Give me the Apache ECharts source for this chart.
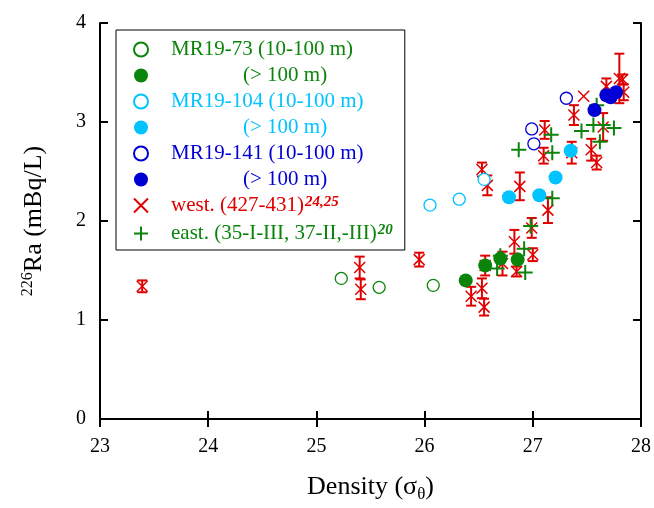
<!DOCTYPE html>
<html>
<head>
<meta charset="utf-8">
<script src="https://cdn.jsdelivr.net/npm/echarts@6/dist/echarts.min.js"></script>
<style>
  html, body { margin: 0; padding: 0; background: #fff; }
  #chart { width: 654px; height: 508px; }
</style>
</head>
<body>
<div id="chart"></div>
<script>
// Axis ticks
const xTicks = [23, 24, 25, 26, 27, 28];
const yTicks = [0, 1, 2, 3, 4];

// MR19-73 samples [density, Ra-226]
const mr73Shallow = [[25.23, 1.42], [25.58, 1.33], [26.08, 1.35]];
const mr73Deep = [[26.38, 1.40], [26.56, 1.55], [26.70, 1.62], [26.86, 1.61]];

// MR19-104 samples
const mr104Shallow = [[26.05, 2.16], [26.32, 2.22], [26.55, 2.42]];
const mr104Deep = [[26.78, 2.24], [27.06, 2.26], [27.21, 2.44], [27.35, 2.71]];

// MR19-141 samples
const mr141Shallow = [[26.99, 2.93], [27.01, 2.78], [27.31, 3.24]];
const mr141Deep = [[27.57, 3.12], [27.68, 3.27], [27.72, 3.25], [27.77, 3.30]];

// Western stations: [density, Ra-226, 1-sigma error]
const westData = [
  [23.39, 1.34, 0.06], [25.40, 1.53, 0.11], [25.41, 1.31, 0.10],
  [25.95, 1.61, 0.07], [26.43, 1.24, 0.095], [26.53, 1.32, 0.10],
  [26.55, 1.13, 0.085], [26.53, 2.52, 0.07], [26.58, 2.36, 0.10],
  [26.56, 1.55, 0.10], [26.72, 1.57, 0.12], [26.83, 1.79, 0.12],
  [26.85, 1.49, 0.05], [26.88, 2.35, 0.14], [26.99, 1.93, 0.10],
  [27.00, 1.66, 0.065], [27.10, 2.66, 0.08], [27.11, 2.92, 0.09],
  [27.14, 2.11, 0.13], [27.36, 2.69, 0.11], [27.38, 3.07, 0.10],
  [27.47, 3.26, 0.0], [27.54, 2.72, 0.11], [27.59, 2.59, 0.07],
  [27.65, 2.95, 0.14], [27.68, 3.36, 0.08], [27.80, 3.44, 0.25],
  [27.83, 3.43, 0.05], [27.84, 3.30, 0.08]
];

// Eastern stations
const eastData = [
  [26.67, 1.52], [26.70, 1.65], [26.87, 2.72], [26.92, 1.72], [26.93, 1.48],
  [26.98, 1.95], [27.17, 2.87], [27.18, 2.69], [27.18, 2.23], [27.45, 2.91],
  [27.56, 2.97], [27.59, 3.17], [27.62, 2.80], [27.65, 2.97], [27.75, 2.94]
];

const GREEN = '#0b840b';
const CYAN = '#00c3ff';
const BLUE = '#0000d4';
const RED = '#e00000';
const FONT = 'Liberation Serif';

const crossPath = 'path://M0,0L10,10M10,0L0,10';
const plusPath = 'path://M5,0L5,10M0,5L10,5';

// Display text for each legend row
const legendText = {
  'mr73s': '{g|MR19-73 (10-100 m)}',
  'mr73d': '{gi|(> 100 m)}',
  'mr104s': '{c|MR19-104 (10-100 m)}',
  'mr104d': '{ci|(> 100 m)}',
  'mr141s': '{b|MR19-141 (10-100 m)}',
  'mr141d': '{bi|(> 100 m)}',
  'west': '{r|west. (427-431)}{rs|24,25}',
  'east': '{g|east. (35-I-III, 37-II,-III)}{gs|20}'
};

const richBase = (color, indent) => ({
  color: color, fontFamily: FONT, fontSize: 21, padding: [0, 0, 0, indent]
});
// Superscript references, lifted toward the top of the row
const richSup = (color) => ({
  color: color, fontFamily: FONT, fontSize: 15, fontWeight: 'bold', fontStyle: 'italic',
  verticalAlign: 'top', lineHeight: 12, padding: [0, 0, 8, 1]
});

function circleSeries(name, data, color, filled) {
  return {
    name: name, type: 'scatter', data: data, z: 5,
    symbol: 'circle', symbolSize: filled ? 14 : 12,
    itemStyle: filled
      ? { color: color, opacity: 1 }
      : { color: '#ffffff', borderColor: color, borderWidth: 1.3, opacity: 1 }
  };
}

const chart = echarts.init(document.getElementById('chart'), null, { renderer: 'canvas' });

const axisCommon = {
  interval: 1,
  axisLine: { show: true, lineStyle: { color: '#000', width: 2 } },
  axisTick: { show: true, inside: true, length: 8, lineStyle: { color: '#000', width: 2 } },
  splitLine: { show: false }
};

chart.setOption({
  animation: false,
  backgroundColor: '#ffffff',
  grid: { left: 100, right: 11, top: 23, bottom: 82, containLabel: false },
  xAxis: [
    Object.assign({}, axisCommon, {
      type: 'value', min: xTicks[0], max: xTicks[xTicks.length - 1], position: 'bottom',
      axisLabel: { color: '#000', fontFamily: FONT, fontSize: 20, margin: 18 },
      name: '{n|Density (σ}{s|θ}{n|)}',
      nameLocation: 'middle', nameGap: 52,
      nameTextStyle: {
        rich: {
          n: { fontFamily: FONT, fontSize: 26, color: '#000' },
          s: { fontFamily: FONT, fontSize: 17, color: '#000', verticalAlign: 'bottom', padding: [15, 0, 0, 0] }
        }
      }
    }),
    Object.assign({}, axisCommon, {
      type: 'value', min: xTicks[0], max: xTicks[xTicks.length - 1], position: 'top',
      axisLabel: { show: false }
    })
  ],
  yAxis: [
    Object.assign({}, axisCommon, {
      type: 'value', min: yTicks[0], max: yTicks[yTicks.length - 1], position: 'left',
      axisLabel: { color: '#000', fontFamily: FONT, fontSize: 20, margin: 14 },
      name: '{s|226}{n|Ra (mBq/L)}',
      nameLocation: 'middle', nameGap: 52,
      nameTextStyle: {
        rich: {
          n: { fontFamily: FONT, fontSize: 26, color: '#000' },
          s: { fontFamily: FONT, fontSize: 16, color: '#000', verticalAlign: 'top', padding: [0, 0, 12, 0] }
        }
      }
    }),
    Object.assign({}, axisCommon, {
      type: 'value', min: yTicks[0], max: yTicks[yTicks.length - 1], position: 'right',
      axisLabel: { show: false }
    })
  ],
  legend: {
    orient: 'vertical',
    left: 116, top: 30,
    padding: [9, 12, 4, 17],
    backgroundColor: '#ffffff',
    borderColor: '#000', borderWidth: 1,
    itemWidth: 20, itemHeight: 14, itemGap: 5,
    data: ['mr73s', 'mr73d', 'mr104s', 'mr104d', 'mr141s', 'mr141d', 'west', 'east'],
    formatter: (name) => legendText[name],
    textStyle: {
      rich: {
        g: richBase(GREEN, 15), gi: richBase(GREEN, 87),
        c: richBase(CYAN, 15), ci: richBase(CYAN, 87),
        b: richBase(BLUE, 15), bi: richBase(BLUE, 87),
        r: richBase(RED, 15), rs: richSup(RED), gs: richSup(GREEN)
      }
    }
  },
  series: [
    {
      name: 'westErr', type: 'custom', z: 2,
      data: westData,
      renderItem: function (params, api) {
        const x = api.value(0), y = api.value(1), e = api.value(2);
        if (!e) return { type: 'group', children: [] };
        const top = api.coord([x, y + e]);
        const bot = api.coord([x, y - e]);
        const cap = 5;
        const st = { stroke: RED, lineWidth: 2 };
        return {
          type: 'group',
          children: [
            { type: 'line', shape: { x1: top[0], y1: top[1], x2: bot[0], y2: bot[1] }, style: st },
            { type: 'line', shape: { x1: top[0] - cap, y1: top[1], x2: top[0] + cap, y2: top[1] }, style: st },
            { type: 'line', shape: { x1: bot[0] - cap, y1: bot[1], x2: bot[0] + cap, y2: bot[1] }, style: st }
          ]
        };
      }
    },
    {
      name: 'west', type: 'scatter', z: 3,
      data: westData.map(d => [d[0], d[1]]),
      symbol: crossPath, symbolSize: 11,
      itemStyle: { color: 'rgba(0,0,0,0)', borderColor: RED, borderWidth: 1.5, opacity: 1 }
    },
    {
      name: 'east', type: 'scatter', z: 3,
      data: eastData,
      symbol: plusPath, symbolSize: 15,
      itemStyle: { color: 'rgba(0,0,0,0)', borderColor: GREEN, borderWidth: 2, opacity: 1 }
    },
    circleSeries('mr73s', mr73Shallow, GREEN, false),
    circleSeries('mr73d', mr73Deep, GREEN, true),
    circleSeries('mr104s', mr104Shallow, CYAN, false),
    circleSeries('mr104d', mr104Deep, CYAN, true),
    circleSeries('mr141s', mr141Shallow, BLUE, false),
    circleSeries('mr141d', mr141Deep, BLUE, true)
  ]
});
</script>
</body>
</html>
